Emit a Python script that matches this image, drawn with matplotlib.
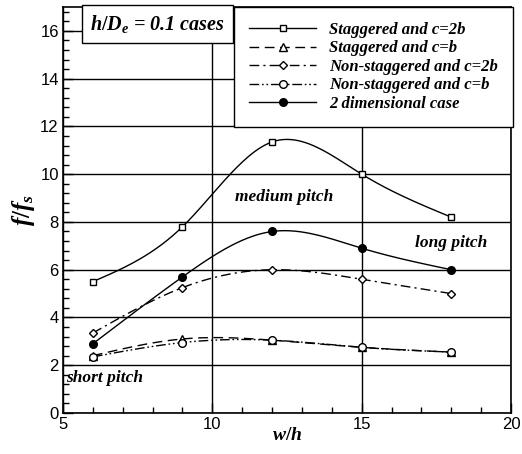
import numpy as np
import matplotlib
matplotlib.use('Agg')
import matplotlib.pyplot as plt
from matplotlib.ticker import MultipleLocator

plt.rcParams['mathtext.fontset'] = 'custom'
plt.rcParams['mathtext.it'] = 'Liberation Serif:italic:bold'
plt.rcParams['mathtext.rm'] = 'Liberation Serif:bold'

# pitch ratio w/h
w_h = [6, 9, 12, 15, 18]

stag_2b = [5.5, 7.8, 11.35, 10.0, 8.2]
stag_b = [2.4, 3.1, 3.05, 2.75, 2.55]
nonstag_2b = [3.35, 5.25, 6.0, 5.6, 5.0]
nonstag_b = [2.35, 2.95, 3.05, 2.75, 2.55]
two_dim = [2.9, 5.7, 7.6, 6.9, 6.0]

labels = ['Staggered and c=2b',
          'Staggered and c=b',
          'Non-staggered and c=2b',
          'Non-staggered and c=b',
          '2 dimensional case']


def spline(x, y, n=200):
    # natural cubic spline through the points, for a smooth curve
    x = np.asarray(x, float)
    y = np.asarray(y, float)
    k = len(x)
    h = np.diff(x)
    A = np.zeros((k, k))
    r = np.zeros(k)
    A[0, 0] = A[-1, -1] = 1
    for i in range(1, k - 1):
        A[i, i - 1] = h[i - 1]
        A[i, i] = 2 * (h[i - 1] + h[i])
        A[i, i + 1] = h[i]
        r[i] = 6 * ((y[i + 1] - y[i]) / h[i] - (y[i] - y[i - 1]) / h[i - 1])
    M = np.linalg.solve(A, r)
    xs = np.linspace(x[0], x[-1], n)
    idx = np.clip(np.searchsorted(x, xs) - 1, 0, k - 2)
    x0, x1 = x[idx], x[idx + 1]
    hh = x1 - x0
    a = (x1 - xs) / hh
    b = (xs - x0) / hh
    ys = (a * y[idx] + b * y[idx + 1]
          + ((a ** 3 - a) * M[idx] + (b ** 3 - b) * M[idx + 1]) * hh ** 2 / 6)
    return xs, ys


fig = plt.figure(figsize=(5.22, 4.54), dpi=100)
ax = fig.add_axes([0.1207, 0.0903, 0.8583, 0.8943])

series = [stag_2b, stag_b, nonstag_2b, nonstag_b, two_dim]
styles = [('-', 's', 'white'),
          ((0, (7, 4)), '^', 'white'),
          ((0, (7, 3, 1.5, 3)), 'D', 'white'),
          ((0, (7, 2, 1.2, 2, 1.2, 2)), 'o', 'white'),
          ('-', 'o', 'black')]
msizes = [5, 5.5, 4.5, 5.5, 5.5]

for vals, (ls, mk, fc), ms, lab in zip(series, styles, msizes, labels):
    xs, ys = spline(w_h, vals)
    ax.plot(xs, ys, color='black', ls=ls, lw=1.0, zorder=3)
    ax.plot(w_h, vals, ls='none', marker=mk, ms=ms, mfc=fc, mec='black',
            mew=1.0, zorder=4)
    ax.plot([], [], color='black', ls=ls, lw=1.0, marker=mk, ms=ms,
            mfc=fc, mec='black', mew=1.0, label=lab)

ax.set_xlim(5, 20)
ax.set_ylim(0, 17)
ax.xaxis.set_major_locator(MultipleLocator(5))
ax.xaxis.set_minor_locator(MultipleLocator(1))
ax.yaxis.set_major_locator(MultipleLocator(2))
ax.yaxis.set_minor_locator(MultipleLocator(0.4))
ax.tick_params(which='both', direction='in', top=False, right=False,
               labelsize=12, width=1.0, pad=3)
ax.tick_params(which='major', length=7)
ax.tick_params(which='minor', length=4)
for t in ax.get_xticklabels() + ax.get_yticklabels():
    t.set_fontfamily('Liberation Sans')
ax.grid(True, which='major', color='black', lw=1.0)
ax.set_axisbelow(True)
for s in ax.spines.values():
    s.set_linewidth(1.2)

ax.set_xlabel(r'$w/h$', fontsize=14, labelpad=-5)
ax.set_ylabel(r'$f/f_s$', fontsize=18, labelpad=2)

ax.text(0.06, 0.985, r'$h/D_e$ = 0.1 cases', transform=ax.transAxes,
        va='top', ha='left', fontsize=14.5, family='Liberation Serif',
        style='italic', weight='bold',
        bbox=dict(boxstyle='square,pad=0.4', fc='white', ec='black', lw=1.0))

note = dict(family='Liberation Serif', style='italic', weight='bold',
            fontsize=12.5, ha='left', va='center')
ax.text(10.75, 9.05, 'medium pitch', **note)
ax.text(16.8, 7.1, 'long pitch', **note)
ax.text(5.1, 1.45, 'short pitch', **note)

leg = ax.legend(loc='upper right', bbox_to_anchor=(1.005, 1.0),
                prop=dict(family='Liberation Serif', style='italic',
                          weight='bold', size=12),
                numpoints=1, handlelength=4.0, handletextpad=0.8,
                labelspacing=0.15, borderpad=0.9, fancybox=False,
                framealpha=1, edgecolor='black', borderaxespad=0)
leg.get_frame().set_linewidth(1.0)

fig.savefig('out.png', dpi=100)
